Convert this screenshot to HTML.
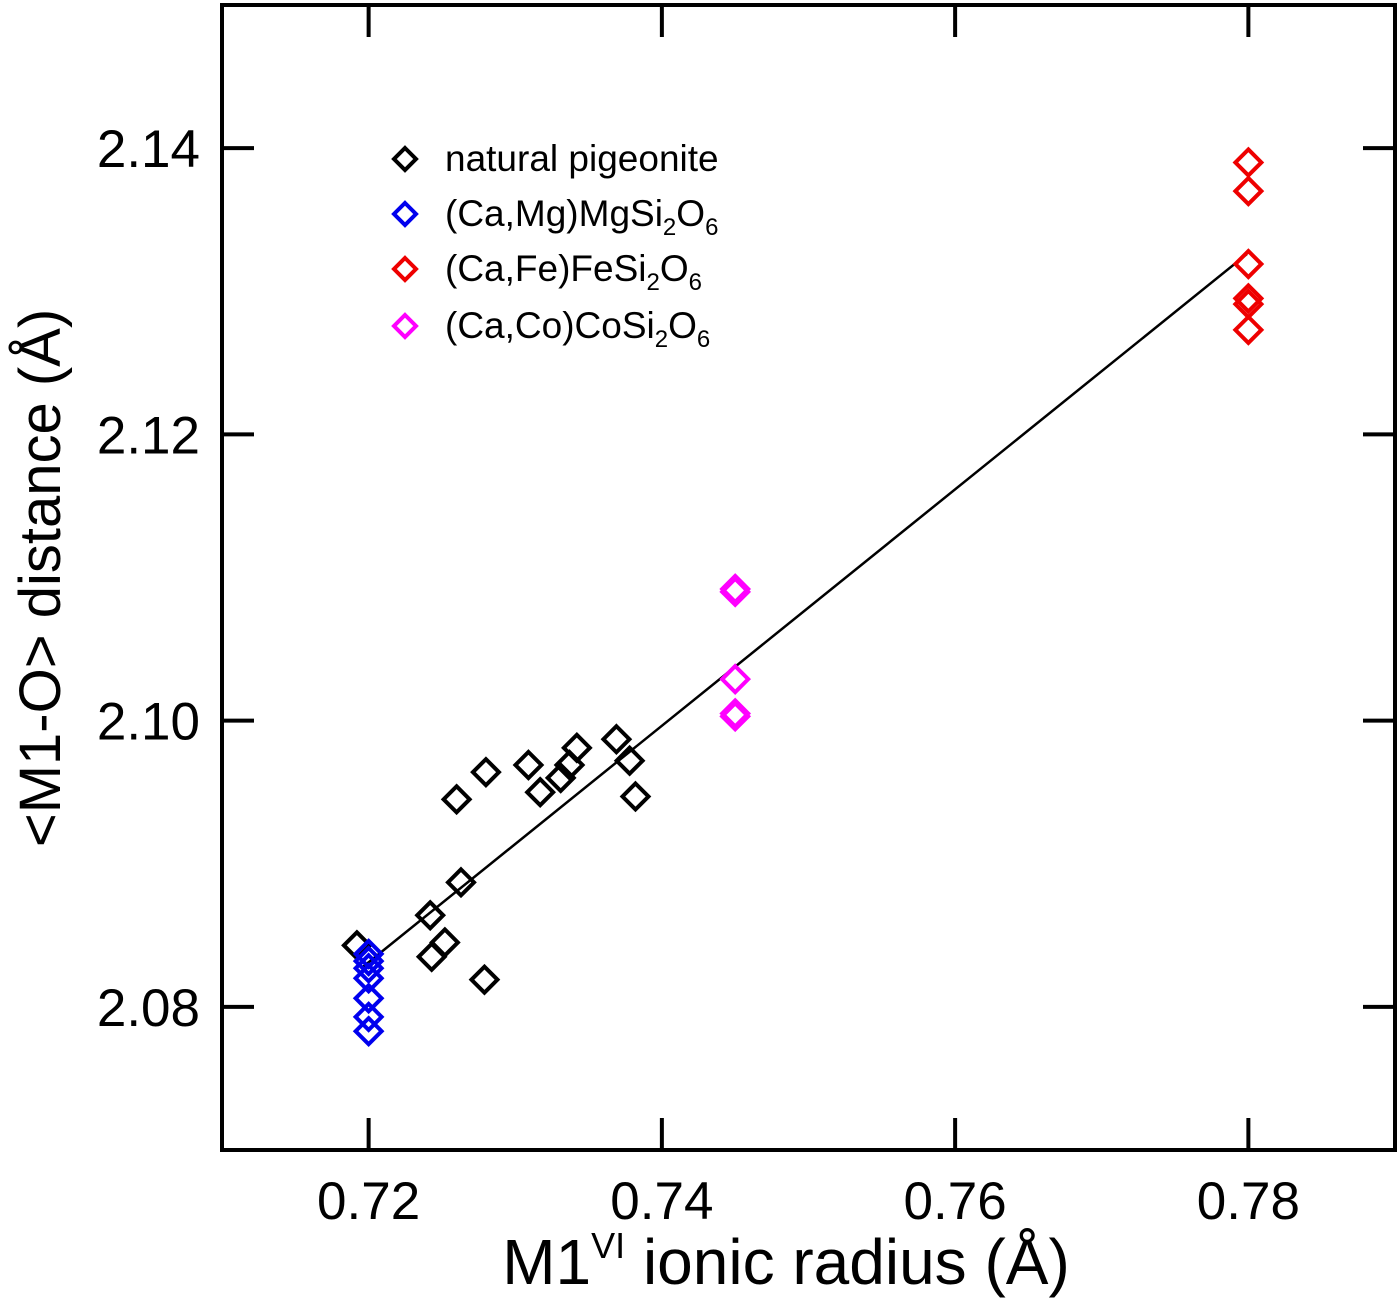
<!DOCTYPE html>
<html><head><meta charset="utf-8"><style>
html,body{margin:0;padding:0;background:#fff}
svg{display:block;font-family:"Liberation Sans",Arial,sans-serif}
</style></head><body>
<svg id="chart" width="1400" height="1304" viewBox="0 0 1400 1304">
<rect x="222" y="5" width="1173" height="1145" fill="none" stroke="#000" stroke-width="4"/>
<g id="ticks"></g>
<g id="marks"></g>
<text x="786" y="1284" font-size="64" text-anchor="middle">M1<tspan font-size="36" dy="-26">VI</tspan><tspan dy="26"> ionic radius (Å)</tspan></text>
<text transform="translate(60,578) rotate(-90)" font-size="58" text-anchor="middle">&lt;M1-O&gt; distance (Å)</text>
<g id="legend"></g>
</svg>
<script>
const xTicks=[0.72,0.74,0.76,0.78];
const yTicks=[2.08,2.10,2.12,2.14];
const xTickLabels=["0.72","0.74","0.76","0.78"];
const yTickLabels=["2.08","2.10","2.12","2.14"];
const blackX=[0.7192,0.7242,0.7243,0.7252,0.7263,0.7279,0.7260,0.7280,0.7309,0.7317,0.7331,0.7337,0.7342,0.7369,0.7378,0.7382];
const blackY=[2.0843,2.0864,2.0835,2.0845,2.0887,2.0819,2.0945,2.0964,2.0969,2.0950,2.0960,2.0969,2.0981,2.0987,2.0972,2.0947];
const blueX=[0.72,0.72,0.72,0.72,0.72,0.72,0.72];
const blueY=[2.0837,2.0832,2.0827,2.0820,2.0806,2.0793,2.0783];
const magX=[0.745,0.745,0.745,0.745,0.745];
const magY=[2.1092,2.1090,2.1029,2.1005,2.1003];
const redX=[0.78,0.78,0.78,0.78,0.78,0.78];
const redY=[2.1390,2.1370,2.1319,2.1295,2.1291,2.1273];
const fitSlope=0.826, fitIntercept=1.4884, fitX=[0.7196,0.7799];
const legendLabels=[["natural pigeonite"],["(Ca,Mg)MgSi","2","O","6"],["(Ca,Fe)FeSi","2","O","6"],["(Ca,Co)CoSi","2","O","6"]];
const legendColors=["#000","#0000ee","#ee0000","#ff00ff"];

const NS="http://www.w3.org/2000/svg";
const X0=222,X1=1395,Y0=1150,Y1=5;
const sx=v=>X0+(v-0.71)/(0.08)*(X1-X0);
const sy=v=>Y0-(v-2.07)/(0.08)*(Y0-Y1);
function mk(t,a,p){const e=document.createElementNS(NS,t);for(const k in a)e.setAttribute(k,a[k]);p.appendChild(e);return e;}
const tk=document.getElementById('ticks');
xTicks.forEach((v,i)=>{const x=sx(v);
 let l=mk('line',{x1:x,x2:x,y1:Y0,y2:Y0-32,stroke:'#000','stroke-width':4},tk);
 
 
 l=mk('line',{x1:x,x2:x,y1:Y1,y2:Y1+32,stroke:'#000','stroke-width':4},tk);
 
 
 const t=mk('text',{x:x,y:1219,'font-size':53,'text-anchor':'middle'},tk);t.textContent=xTickLabels[i];
 
 
});
yTicks.forEach((v,i)=>{const y=sy(v);
 let l=mk('line',{x1:X0,x2:X0+32,y1:y,y2:y,stroke:'#000','stroke-width':4},tk);
 
 
 l=mk('line',{x1:X1,x2:X1-32,y1:y,y2:y,stroke:'#000','stroke-width':4},tk);
 
 
 const t=mk('text',{x:200,y:y+19,'font-size':53,'text-anchor':'end'},tk);t.textContent=yTickLabels[i];
 
 
});
const mg=document.getElementById('marks');
const fl=mk('line',{x1:sx(fitX[0]),y1:sy(fitSlope*fitX[0]+fitIntercept),x2:sx(fitX[1]),y2:sy(fitSlope*fitX[1]+fitIntercept),stroke:'#000','stroke-width':2.5},mg);


function diamond(cx,cy,c,p,r){r=r||13;return mk('polygon',{points:`${cx},${cy-r} ${cx+r},${cy} ${cx},${cy+r} ${cx-r},${cy}`,fill:'none',stroke:c,'stroke-width':4},p);}
[[blackX,blackY,0,'natural-pigeonite-point'],[blueX,blueY,1,'camg-point'],[magX,magY,3,'caco-point'],[redX,redY,2,'cafe-point']].forEach(([xs,ys,ci,nm])=>{
 xs.forEach((v,i)=>{const d=diamond(sx(v),sy(ys[i]),legendColors[ci],mg);
  
  });
});
const lg=document.getElementById('legend');
const ly=[159,214,269,326];
legendLabels.forEach((parts,i)=>{
 const d=diamond(405,ly[i],legendColors[i],lg,11);
 
 
 const t=mk('text',{x:445,y:ly[i]+12,'font-size':37},lg);
 
 
 if(parts.length===1){t.textContent=parts[0];}
 else{
  mk('tspan',{},t).textContent=parts[0];
  mk('tspan',{'font-size':24,dy:9},t).textContent=parts[1];
  mk('tspan',{dy:-9},t).textContent=parts[2];
  mk('tspan',{'font-size':24,dy:9},t).textContent=parts[3];
 }
});
</script>
</body></html>
